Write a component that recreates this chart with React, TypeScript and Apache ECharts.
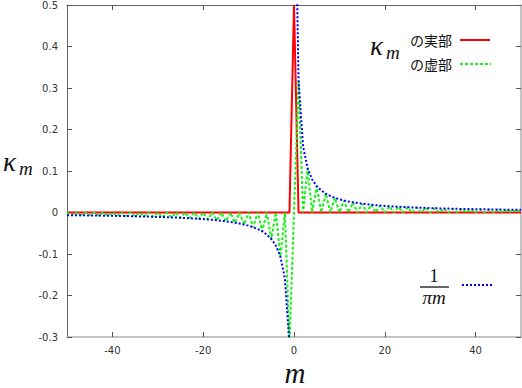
import React, { useEffect, useRef } from "react";
import * as echarts from "echarts";

// m = -50 .. 50 (integer indices of the sequence)
const M_START = -50;

// real part of kappa_m, m = -50..50
const realValues = [
  0, 0, 0, 0, 0, 0, 0, 0, 0, 0, 0, 0, 0, 0, 0, 0, 0, 0, 0, 0, 0, 0, 0, 0, 0,
  0, 0, 0, 0, 0, 0, 0, 0, 0, 0, 0, 0, 0, 0, 0, 0, 0, 0, 0, 0, 0, 0, 0, 0, 0,
  0.5,
  0, 0, 0, 0, 0, 0, 0, 0, 0, 0, 0, 0, 0, 0, 0, 0, 0, 0, 0, 0, 0, 0, 0, 0, 0,
  0, 0, 0, 0, 0, 0, 0, 0, 0, 0, 0, 0, 0, 0, 0, 0, 0, 0, 0, 0, 0, 0, 0, 0, 0,
];

// imaginary part of kappa_m, m = -50..50
const imagValues = [
  0, -0.0065, 0, -0.0068, 0, -0.0071, 0, -0.0074, 0, -0.0078, 0, -0.0082, 0, -0.0086, 0, -0.0091,
  0, -0.0096, 0, -0.0103, 0, -0.011, 0, -0.0118, 0, -0.0127, 0, -0.0138, 0, -0.0152, 0, -0.0168,
  0, -0.0187, 0, -0.0212, 0, -0.0245, 0, -0.0289, 0, -0.0354, 0, -0.0455, 0, -0.0637, 0, -0.1061,
  0, -0.3183,
  0,
  0.3183, 0, 0.1061, 0, 0.0637, 0, 0.0455, 0, 0.0354, 0, 0.0289, 0, 0.0245, 0, 0.0212, 0,
  0.0187, 0, 0.0168, 0, 0.0152, 0, 0.0138, 0, 0.0127, 0, 0.0118, 0, 0.011, 0, 0.0103, 0,
  0.0096, 0, 0.0091, 0, 0.0086, 0, 0.0082, 0, 0.0078, 0, 0.0074, 0, 0.0071, 0, 0.0068, 0,
  0.0065, 0,
];

// 1/(pi m) curve samples
const curveNegM = [
  -50, -49, -48, -47, -46, -45, -44, -43, -42, -41, -40, -39, -38, -37, -36, -35, -34, -33, -32, -31,
  -30, -29, -28, -27, -26, -25, -24, -23, -22, -21, -20, -19, -18, -17, -16, -15, -14, -13, -12, -11,
  -10, -9, -8, -7, -6, -5, -4, -3, -2, -1, -0.5,
];
const curveNegV = [
  -0.0064, -0.0065, -0.0066, -0.0068, -0.0069, -0.0071, -0.0072, -0.0074, -0.0076, -0.0078,
  -0.008, -0.0082, -0.0084, -0.0086, -0.0088, -0.0091, -0.0094, -0.0096, -0.0099, -0.0103,
  -0.0106, -0.011, -0.0114, -0.0118, -0.0122, -0.0127, -0.0133, -0.0138, -0.0145, -0.0152,
  -0.0159, -0.0168, -0.0177, -0.0187, -0.0199, -0.0212, -0.0227, -0.0245, -0.0265, -0.0289,
  -0.0318, -0.0354, -0.0398, -0.0455, -0.0531, -0.0637, -0.0796, -0.1061, -0.1592, -0.3183,
  -0.6366,
];
const curvePosM = [
  0.5, 1, 2, 3, 4, 5, 6, 7, 8, 9, 10, 11, 12, 13, 14, 15, 16, 17, 18, 19, 20, 21, 22, 23, 24, 25,
  26, 27, 28, 29, 30, 31, 32, 33, 34, 35, 36, 37, 38, 39, 40, 41, 42, 43, 44, 45, 46, 47, 48, 49, 50,
];
const curvePosV = [
  0.6366, 0.3183, 0.1592, 0.1061, 0.0796, 0.0637, 0.0531, 0.0455, 0.0398, 0.0354, 0.0318,
  0.0289, 0.0265, 0.0245, 0.0227, 0.0212, 0.0199, 0.0187, 0.0177, 0.0168, 0.0159,
  0.0152, 0.0145, 0.0138, 0.0133, 0.0127, 0.0122, 0.0118, 0.0114, 0.011, 0.0106,
  0.0103, 0.0099, 0.0096, 0.0094, 0.0091, 0.0088, 0.0086, 0.0084, 0.0082, 0.008,
  0.0078, 0.0076, 0.0074, 0.0072, 0.0071, 0.0069, 0.0068, 0.0066, 0.0065, 0.0064,
];

const xTicks = [-40, -20, 0, 20, 40];
const yTicks = [-0.3, -0.2, -0.1, 0, 0.1, 0.2, 0.3, 0.4, 0.5];

const RED = "#ff0000";
const GREEN = "#19f019";
const BLUE = "#0000ff";

const seqPairs = (vals: number[]) => vals.map((v, i) => [M_START + i, v]);
const zip = (ms: number[], vs: number[]) => ms.map((m, i) => [m, vs[i]]);

const serifFam = "'Liberation Serif', 'DejaVu Serif', serif";
const cjk = "'Noto Sans CJK JP', 'Noto Sans', sans-serif";
const it = (size: number) => `italic normal ${size}px ${serifFam}`;
const up = (size: number) => `normal normal ${size}px ${serifFam}`;

const mathText = (x: number, y: number, text: string, font: string, lh: number, align = "left") => ({
  type: "text",
  x,
  y,
  style: { text, font, fill: "#111", align, verticalAlign: "middle", lineHeight: lh },
});

export default function App() {
  const ref = useRef<HTMLDivElement>(null);
  useEffect(() => {
    const chart = echarts.init(ref.current!, null, { renderer: "svg" });
    const baseX = {
      type: "value",
      min: -50,
      max: 50,
      splitLine: { show: false },
    };
    const baseY = {
      type: "value",
      min: -0.3,
      max: 0.5,
      splitLine: { show: false },
    };
    chart.setOption({
      animation: false,
      backgroundColor: "#ffffff",
      grid: { left: 67, right: 1, top: 5, bottom: 51, containLabel: false },
      xAxis: [
        {
          ...baseX,
          position: "bottom",
          axisLine: { show: true, onZero: false, lineStyle: { color: "#b0b0b0", width: 1.5 } },
          axisTick: { show: true, inside: true, length: 5, customValues: xTicks, lineStyle: { color: "#555" } },
          axisLabel: {
            show: true,
            customValues: xTicks,
            fontSize: 10,
            color: "#333",
            margin: 8,
            fontFamily: "'DejaVu Sans', sans-serif",
          },
        },
        {
          ...baseX,
          position: "top",
          axisLine: { show: true, onZero: false, lineStyle: { color: "#666", width: 1 } },
          axisTick: { show: true, inside: true, length: 5, customValues: xTicks, lineStyle: { color: "#555" } },
          axisLabel: { show: false },
        },
      ],
      yAxis: [
        {
          ...baseY,
          position: "left",
          axisLine: { show: true, onZero: false, lineStyle: { color: "#666", width: 1 } },
          axisTick: { show: true, inside: true, length: 5, customValues: yTicks, lineStyle: { color: "#555" } },
          axisLabel: {
            show: true,
            customValues: yTicks,
            fontSize: 10,
            color: "#333",
            margin: 9,
            fontFamily: "'DejaVu Sans', sans-serif",
          },
        },
        {
          ...baseY,
          position: "right",
          axisLine: { show: true, onZero: false, lineStyle: { color: "#b0b0b0", width: 1.5 } },
          axisTick: { show: true, inside: true, length: 5, customValues: yTicks, lineStyle: { color: "#555" } },
          axisLabel: { show: false },
        },
      ],
      series: [
        {
          name: "real",
          type: "line",
          data: seqPairs(realValues),
          showSymbol: false,
          clip: true,
          lineStyle: { color: RED, width: 2 },
          z: 2,
        },
        {
          name: "imag",
          type: "line",
          data: seqPairs(imagValues),
          showSymbol: false,
          clip: true,
          lineStyle: { color: GREEN, width: 2, type: [3, 2] },
          z: 3,
        },
        {
          name: "curveNeg",
          type: "line",
          data: zip(curveNegM, curveNegV),
          showSymbol: false,
          clip: true,
          lineStyle: { color: BLUE, width: 2, type: [2, 2] },
          z: 4,
        },
        {
          name: "curvePos",
          type: "line",
          data: zip(curvePosM, curvePosV),
          showSymbol: false,
          clip: true,
          lineStyle: { color: BLUE, width: 2, type: [2, 2] },
          z: 4,
        },
      ],
      graphic: [
        // y-axis title kappa_m
        mathText(3, 162, "κ", it(27), 18),
        mathText(19, 168, "m", it(19), 12),
        // x-axis title
        mathText(295, 372.5, "m", it(29), 18, "center"),
        // legend: kappa_m
        mathText(370, 46, "κ", it(27), 18),
        mathText(386, 52, "m", it(19), 12),
        {
          type: "text",
          x: 410,
          y: 40,
          style: { text: "の実部", font: `normal normal 14px ${cjk}`, fill: "#111", verticalAlign: "middle", lineHeight: 16 },
        },
        {
          type: "text",
          x: 410,
          y: 64,
          style: { text: "の虚部", font: `normal normal 14px ${cjk}`, fill: "#111", verticalAlign: "middle", lineHeight: 16 },
        },
        {
          type: "line",
          shape: { x1: 460, y1: 40, x2: 490, y2: 40 },
          style: { stroke: RED, lineWidth: 2 },
        },
        {
          type: "line",
          shape: { x1: 460, y1: 64, x2: 491, y2: 64 },
          style: { stroke: GREEN, lineWidth: 2, lineDash: [3, 2] },
        },
        // legend: 1/(pi m)
        mathText(434, 276, "1", up(18), 14, "center"),
        {
          type: "line",
          shape: { x1: 420, y1: 287, x2: 449, y2: 287 },
          style: { stroke: "#333", lineWidth: 1.5 },
        },
        mathText(434, 297, "πm", it(19), 12, "center"),
        {
          type: "line",
          shape: { x1: 462, y1: 285, x2: 492, y2: 285 },
          style: { stroke: BLUE, lineWidth: 2, lineDash: [2, 2] },
        },
      ],
    });
    return () => chart.dispose();
  }, []);
  return (
    <div
      ref={ref}
      style={{ position: "absolute", left: 0, top: 0, width: 522, height: 388 }}
    />
  );
}
